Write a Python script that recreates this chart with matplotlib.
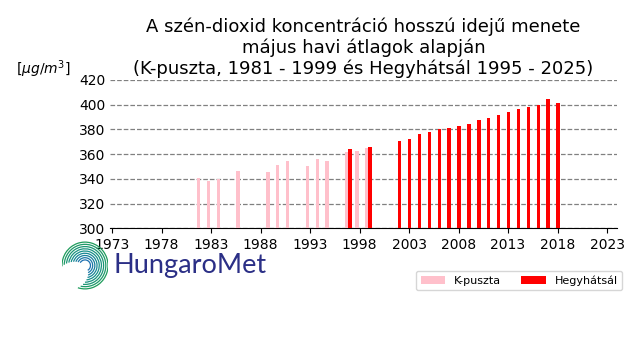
import numpy as np
import matplotlib.pyplot as plt
from matplotlib.patches import Arc
from matplotlib.colors import LinearSegmentedColormap

# K-puszta, majusi atlagok
kp_years = [1982, 1983, 1984, 1986, 1989, 1990, 1991, 1993, 1994, 1995, 1997, 1998, 1999]
kp_values = [341.0, 338.3, 339.6, 346.6, 345.8, 351.5, 354.7, 350.7, 356.3, 354.7, 362.0, 362.8, 365.2]

# Hegyhatsal, majusi atlagok
hh_years = [1997, 1999, 2002, 2003, 2004, 2005, 2006, 2007, 2008, 2009, 2010,
            2011, 2012, 2013, 2014, 2015, 2016, 2017, 2018]
hh_values = [364.4, 366.0, 370.9, 372.5, 376.6, 378.2, 380.6, 381.4, 383.0, 384.7, 387.9,
             389.5, 391.9, 394.4, 396.8, 398.4, 400.0, 404.9, 401.6]

xticks = list(range(1973, 2024, 5))
yticks = [300, 320, 340, 360, 380, 400, 420]

fig = plt.figure(figsize=(6.4, 3.6), dpi=100)
ax = fig.add_axes([0.172, 0.366, 0.792, 0.412])

ax.bar(np.array(kp_years) - 0.27, np.array(kp_values) - 300, bottom=300,
       width=0.35, color='pink', label='K-puszta', zorder=3)
ax.bar(np.array(hh_years) + 0.05, np.array(hh_values) - 300, bottom=300,
       width=0.35, color='red', label='Hegyhátsál', zorder=3)

ax.set_ylim(300, 420)
ax.set_xlim(1972.8, 2024.0)
ax.set_xticks(xticks)
ax.set_yticks(yticks)
ax.tick_params(axis='y', length=0, labelsize=10)
ax.tick_params(axis='x', labelsize=10)
ax.yaxis.grid(True, linestyle='--', color='gray', linewidth=0.9, zorder=0)
for s in ['top', 'right', 'left']:
    ax.spines[s].set_visible(False)

ax.set_title('A szén-dioxid koncentráció hosszú idejű menete\n'
             'május havi átlagok alapján\n'
             '(K-puszta, 1981 - 1999 és Hegyhátsál 1995 - 2025)',
             fontsize=13, pad=4)
fig.text(0.025, 0.795, r'[$\mu g/m^3$]', fontsize=10)

fig.legend(loc='upper right', bbox_to_anchor=(0.972, 0.247), ncol=2, fontsize=8,
           handlelength=2.2, columnspacing=1.8, borderaxespad=0)

# HungaroMet logo
lax = fig.add_axes([62 / 640, 70 / 360, 46 / 640, 49 / 360])
lax.set_xlim(-1.05, 1.05)
lax.set_ylim(-1.1, 1.1)
lax.axis('off')
cmap = LinearSegmentedColormap.from_list('logo', ['#1f9c5c', '#178f8a', '#1c6fb0'])
cols = cmap(np.linspace(0, 1, 9))
for i, r in enumerate(np.linspace(0.25, 1.05, 9)):
    lax.add_patch(Arc((0, 0), 2 * r, 2 * r, theta1=-60 - i * 6, theta2=150 + i * 4,
                      color=cols[8 - i], lw=0.9))
fig.text(0.177, 0.262, 'HungaroMet', fontsize=19.5, color='#2b2f86',
         family=['Lato', 'Open Sans'], va='center')

fig.savefig('out.png', dpi=100)
